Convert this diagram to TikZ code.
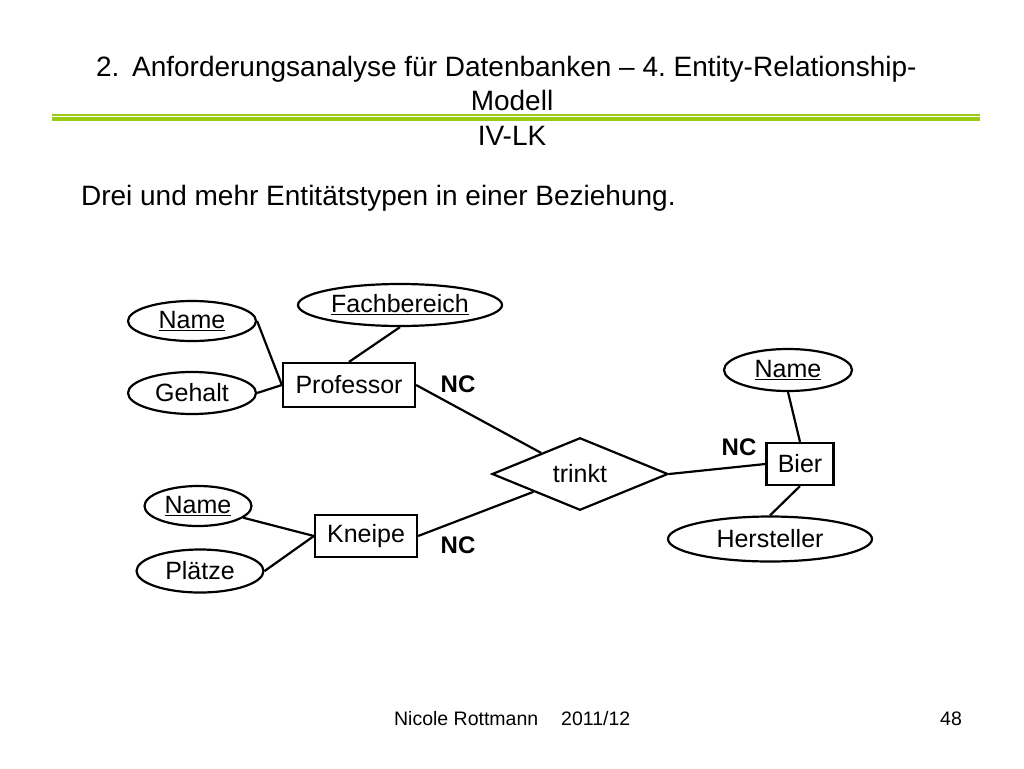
\documentclass[tikz,border=0pt]{standalone}
\usepackage{fontspec}
\setmainfont{Liberation Sans}
\usetikzlibrary{shapes.geometric}
\definecolor{slidegreen}{RGB}{153,202,20}
\frenchspacing
\begin{document}
\begin{tikzpicture}[x=1pt,y=-1pt,line width=2.2pt,
  slidetext/.style={inner sep=0pt,font=\fontsize{28}{34}\selectfont},
  entity/.style={draw,rectangle,inner sep=0pt,font=\fontsize{25}{30}\selectfont},
  attr/.style={draw,ellipse,inner sep=0pt,font=\fontsize{25}{30}\selectfont},
  relation/.style={draw,diamond,inner sep=0pt,font=\fontsize{25}{30}\selectfont},
  card/.style={font=\fontsize{24}{28}\selectfont\bfseries}]
  \useasboundingbox (0,0) rectangle (1024,768);

  % Title
  \node[slidetext,anchor=base west] (titlenum) at (95,76) {2.};
  \node[slidetext,anchor=base west] (title) at (131,76)
    {Anforderungsanalyse für Datenbanken – 4. Entity-Relationship-};
  \node[slidetext,anchor=base] (titlemodell) at (512,110) {Modell};
  \draw[slidegreen,line width=1.4pt] (52,115) -- (980,115);
  \draw[slidegreen,line width=4pt] (52,118.7) -- (980,118.7);
  \node[slidetext,anchor=base] (titlesub) at (512,145) {IV-LK};
  \node[slidetext,anchor=base west] (intro) at (80,205)
    {Drei und mehr Entitätstypen in einer Beziehung.};

  % Entities and relationship
  \node[entity,minimum width=132,minimum height=44] (prof) at (349,385) {Professor};
  \node[entity,minimum width=102,minimum height=42] (kneipe) at (366,536) {Kneipe};
  \node[entity,minimum width=67,minimum height=42] (bier) at (800,464) {Bier};
  \node[relation,minimum width=176,minimum height=64] (trinkt) at (580,474) {trinkt};

  % Attributes
  \node[attr,minimum width=128,minimum height=40] (pname) at (192,321) {\underline{Name}};
  \node[attr,minimum width=128,minimum height=42] (gehalt) at (192,393) {Gehalt};
  \node[attr,minimum width=204,minimum height=42] (fach) at (400,305) {\underline{Fachbereich}};
  \node[attr,minimum width=128,minimum height=42] (bname) at (788,370) {\underline{Name}};
  \node[attr,minimum width=204,minimum height=45] (herst) at (770,539) {Hersteller};
  \node[attr,minimum width=107,minimum height=40] (kname) at (198,506) {\underline{Name}};
  \node[attr,minimum width=127,minimum height=43] (plaetze) at (200,571) {Plätze};

  % Cardinalities
  \node[card] (ncprof) at (458,384) {NC};
  \node[card] (ncbier) at (739,447) {NC};
  \node[card] (nckneipe) at (458,545) {NC};

  % Connections
  \draw (pname.east) -- (prof.west);
  \draw (gehalt.east) -- (prof.west);
  \draw (fach.south) -- (prof.north);
  \draw (prof.east) -- (trinkt);
  \draw (kneipe.east) -- (trinkt);
  \draw (trinkt.east) -- (bier.west);
  \draw (bname.south) -- (bier.north);
  \draw (herst.north) -- (bier.south);
  \draw (kname) -- (kneipe.west);
  \draw (plaetze.east) -- (kneipe.west);

  % Footer
  \node[anchor=base west,inner sep=0pt,font=\fontsize{19.5}{24}\selectfont] (footer) at (393,725)
    {Nicole Rottmann\hspace*{23pt}2011/12};
  \node[anchor=base east,inner sep=0pt,font=\fontsize{19.5}{24}\selectfont] (pagenum) at (963,725) {48};
\end{tikzpicture}
\end{document}
